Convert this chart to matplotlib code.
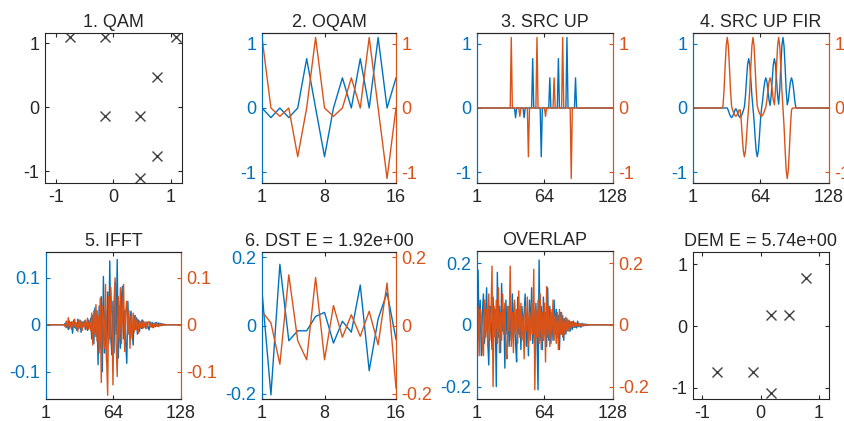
import numpy as np
import matplotlib
matplotlib.use("Agg")
import matplotlib.pyplot as plt

BLUE = "#0072BD"
ORANGE = "#D95319"
DARK = "#262626"
MARK = "#404040"

plt.rcParams["font.family"] = ["Liberation Sans", "DejaVu Sans"]
plt.rcParams["font.size"] = 13
plt.rcParams["axes.unicode_minus"] = False

# ── data ────────────────────────────────────────────────────────────────────
# QAM symbols (real / imag)
qam_re = [-0.15, -0.15, 0.77, -0.76, 0.47, 0.77, 1.1, 0.47]
qam_im = [1.1, -0.13, -0.76, 1.1, -0.13, 0.47, 1.1, -1.1]

# upsampling of the 16 OQAM samples into a 128-sample frame
UP_START = 33
UP_STEP = 4

# pulse-shaped frame, non-zero stretch only
FIR_ORANGE_START = 29
fir_orange = [
    0.03, 0.28, 0.65, 0.97, 1.10, 0.97, 0.65, 0.28,
    0.03, -0.03, -0.08, -0.11, -0.13, -0.11, -0.08, -0.03,
    -0.03, -0.19, -0.45, -0.67, -0.76, -0.67, -0.45, -0.19,
    0.01, 0.28, 0.65, 0.97, 1.10, 0.97, 0.65, 0.28,
    0.03, -0.03, -0.08, -0.11, -0.13, -0.11, -0.08, -0.03,
    0.01, 0.12, 0.28, 0.41, 0.47, 0.41, 0.28, 0.12,
    0.05, 0.28, 0.65, 0.97, 1.10, 0.97, 0.65, 0.28,
    0.00, -0.28, -0.65, -0.97, -1.10, -0.97, -0.65, -0.28,
    -0.03,
]
FIR_BLUE_START = 33
fir_blue = [
    0.00, -0.04, -0.09, -0.13, -0.15, -0.13, -0.09, -0.04,
    -0.01, -0.04, -0.09, -0.13, -0.15, -0.13, -0.09, -0.04,
    0.02, 0.19, 0.45, 0.68, 0.77, 0.68, 0.45, 0.19,
    0.00, -0.19, -0.45, -0.67, -0.76, -0.67, -0.45, -0.19,
    -0.01, 0.12, 0.28, 0.41, 0.47, 0.41, 0.28, 0.12,
    0.04, 0.19, 0.45, 0.68, 0.77, 0.68, 0.45, 0.19,
    0.06, 0.28, 0.65, 0.97, 1.10, 0.97, 0.65, 0.28,
    0.05, 0.12, 0.28, 0.41, 0.47, 0.41, 0.28, 0.12,
    0.01,
]

ifft_blue = [
    0, 0, 0, 0, 0, 0, 0, 0, 0, 0,
    0, 0, 0, 0, 0, 0, 0, 0, 0.003, -0.006,
    0.004, -0.010, 0.008, -0.004, 0.006, -0.018, 0.010, -0.006, 0.004, -0.012,
    0.012, -0.008, 0.010, -0.016, 0.006, -0.004, 0.008, -0.010, 0.004, -0.012,
    0.010, -0.006, 0.014, -0.030, 0.020, -0.040, 0.036, -0.025, 0.030, -0.085,
    0.040, -0.050, 0.060, -0.100, 0.103, -0.060, 0.030, -0.080, 0.070, -0.040,
    0.136, -0.030, -0.064, 0.050, -0.060, 0.090, -0.020, 0.139, -0.071, 0.040,
    -0.050, 0.060, 0.082, -0.030, 0.030, -0.040, -0.082, 0.050, -0.020, 0.010,
    0.029, -0.015, -0.043, 0.020, -0.010, 0.015, -0.020, 0.010, -0.014, 0.006,
    -0.008, 0.010, -0.006, 0.004, -0.008, 0.006, -0.004, -0.011, 0.006, -0.004,
    0.005, -0.006, 0.003, -0.004, 0.005, -0.003, 0.004, -0.002, 0.003, -0.002,
    0.002, -0.001, 0.001, 0, 0, 0, 0, 0, 0, 0,
    0, 0, 0, 0, 0, 0, 0, 0,
]
ifft_orange = [
    0, 0, 0, 0, 0, 0, 0, 0, 0, 0,
    0, 0, 0, 0, 0, 0, 0, 0, -0.004, 0.008,
    -0.006, 0.015, -0.008, 0.005, -0.010, 0.006, -0.004, 0.012, -0.008, 0.004,
    -0.014, 0.010, -0.006, 0.008, -0.012, 0.006, -0.004, 0.010, -0.008, 0.014,
    -0.010, 0.006, -0.012, 0.025, -0.043, 0.030, -0.020, 0.043, -0.035, 0.020,
    -0.060, 0.057, -0.123, 0.040, 0.010, -0.050, 0.086, -0.070, -0.150, 0.060,
    -0.030, 0.080, 0.020, -0.128, 0.050, 0.100, -0.040, -0.110, 0.060, -0.030,
    0.079, -0.040, 0.020, 0.086, -0.057, 0.030, 0.050, -0.020, 0.030, -0.050,
    0.020, -0.030, 0.025, -0.015, 0.020, -0.010, 0.012, -0.018, 0.008, -0.006,
    0.010, -0.008, 0.007, -0.004, 0.006, -0.008, 0.005, 0.007, -0.005, 0.004,
    -0.006, 0.003, -0.004, 0.005, -0.003, 0.002, -0.004, 0.003, -0.002, 0.002,
    -0.001, 0.001, -0.001, 0, 0, 0, 0, 0, 0, 0,
    0, 0, 0, 0, 0, 0, 0, 0,
]

dst_blue = [0.10, -0.203, 0.18, -0.044, -0.015, -0.015, 0.027, 0.039,
            -0.051, 0.013, -0.019, 0.119, -0.132, 0.02, 0.097, -0.04]
dst_orange = [0.042, 0.008, -0.113, 0.149, -0.044, -0.10, 0.141, -0.10,
              0.059, -0.034, 0.032, -0.031, 0.042, -0.056, 0.125, -0.183]

overlap_blue = [
    0.05, 0.177, -0.05, 0.08, -0.10, 0.04, 0.10, -0.06, 0.03, 0.12,
    -0.05, -0.13, 0.06, 0.02, -0.08, 0.09, -0.03, 0.05, -0.20, 0.17,
    -0.04, 0.06, -0.09, 0.134, -0.02, 0.05, -0.14, 0.08, -0.03, 0.06,
    -0.07, 0.04, -0.05, 0.10, -0.04, 0.07, -0.06, -0.12, 0.09, -0.03,
    0.05, -0.08, 0.06, -0.02, 0.04, 0.10, -0.07, 0.03, -0.10, 0.08,
    -0.03, 0.12, -0.06, 0.05, -0.09, 0.07, -0.04, -0.21, 0.21, -0.05,
    0.06, -0.08, 0.09, -0.03, 0.04, -0.07, 0.12, -0.05, 0.06, -0.06,
    0.04, -0.05, 0.08, -0.03, 0.05, -0.04, 0.03, -0.08, 0.04, -0.03,
    0.03, -0.05, 0.02, -0.03, 0.02, -0.02, 0.015, -0.02, 0.01, -0.015,
    0.012, -0.008, 0.006, -0.01, 0.012, -0.006, 0.004, -0.008, 0.005, -0.004,
    0.003, -0.003, 0.002, -0.002, 0.001, -0.001, 0, 0, 0, 0,
    0, 0, 0, 0, 0, 0, 0, 0, 0, 0,
    0, 0, 0, 0, 0, 0, 0, 0,
]
overlap_orange = [
    -0.03, 0.06, -0.10, 0.05, 0.02, -0.06, -0.10, 0.08, -0.04, 0.05,
    -0.07, 0.10, -0.05, 0.03, 0.19, -0.20, 0.06, -0.04, 0.08, -0.06,
    0.12, -0.09, 0.04, -0.05, 0.10, -0.03, 0.07, -0.08, -0.11, 0.06,
    -0.02, 0.19, -0.07, 0.04, -0.09, 0.08, -0.03, 0.05, -0.06, 0.11,
    -0.04, 0.07, -0.05, 0.03, -0.11, 0.06, -0.02, 0.09, -0.07, 0.04,
    -0.05, 0.07, -0.03, 0.18, -0.21, 0.05, -0.04, 0.08, -0.06, 0.10,
    -0.08, 0.04, -0.05, 0.07, -0.12, 0.124, -0.04, 0.06, -0.07, 0.05,
    -0.03, 0.08, -0.05, 0.03, -0.06, 0.04, -0.08, 0.05, -0.03, 0.04,
    -0.04, 0.02, -0.03, 0.025, -0.02, 0.015, -0.02, 0.01, -0.012, 0.01,
    -0.008, 0.006, -0.008, 0.005, -0.006, 0.004, -0.005, 0.003, -0.004, 0.003,
    -0.002, 0.002, -0.001, 0.001, 0, 0, 0, 0, 0, 0,
    0, 0, 0, 0, 0, 0, 0, 0, 0, 0,
    0, 0, 0, 0, 0, 0, 0, 0,
]

# demodulated symbols
dem_re = [-0.75, -0.14, 0.17, 0.17, 0.48, 0.77]
dem_im = [-0.75, -0.75, -1.075, 0.177, 0.177, 0.785]

dst_energy = 1.92
dem_energy = 5.74

# ── derived series ──────────────────────────────────────────────────────────
N = 128
n16 = np.arange(1, 17)
n128 = np.arange(1, N + 1)

# OQAM staggering: imag on odd slots, real on even slots
oqam_blue = np.zeros(16)
oqam_orange = np.zeros(16)
oqam_blue[1::2] = qam_re
oqam_orange[0::2] = qam_im

up_idx = UP_START - 1 + UP_STEP * np.arange(16)
src_blue = np.zeros(N)
src_orange = np.zeros(N)
src_blue[up_idx] = oqam_blue
src_orange[up_idx] = oqam_orange

filt_blue = np.zeros(N)
filt_orange = np.zeros(N)
filt_blue[FIR_BLUE_START - 1:FIR_BLUE_START - 1 + len(fir_blue)] = fir_blue
filt_orange[FIR_ORANGE_START - 1:FIR_ORANGE_START - 1 + len(fir_orange)] = fir_orange

# ── figure ──────────────────────────────────────────────────────────────────
W, H = 845, 421
fig = plt.figure(figsize=(W / 100, H / 100), dpi=100)
fig.patch.set_facecolor("white")


def px_rect(x0, y0, x1, y1):
    return [x0 / W, 1 - y1 / H, (x1 - x0) / W, (y1 - y0) / H]


def fmt(v):
    return f"{v:g}"


def scatter_panel(rect, title, xs, ys, xlim, ylim):
    ax = fig.add_axes(rect)
    ax.plot(xs, ys, linestyle="none", marker="x", ms=7.5, mew=1.0, color=MARK)
    ax.set_xlim(*xlim)
    ax.set_ylim(*ylim)
    ticks = [-1, 0, 1]
    ax.set_xticks(ticks, [fmt(t) for t in ticks])
    ax.set_yticks(ticks, [fmt(t) for t in ticks])
    for s in ax.spines.values():
        s.set_color(DARK)
        s.set_linewidth(0.8)
    ax.tick_params(direction="in", length=3, width=0.8, top=True, right=True,
                   colors=DARK, pad=4)
    ax.set_title(title, color=DARK, pad=4, fontsize=13)
    return ax


def twin_panel(rect, title, x, yl, yr, ylim, xticks, yticks):
    ax = fig.add_axes(rect)
    ax2 = ax.twinx()
    ax.plot(x, yl, color=BLUE, lw=1.0)
    ax2.plot(x, yr, color=ORANGE, lw=1.0)
    ax.set_xlim(x[0], x[-1])
    ax.set_ylim(*ylim)
    ax2.set_ylim(*ylim)
    ax.set_xticks(xticks, [fmt(t) for t in xticks])
    ax.set_yticks(yticks, [fmt(t) for t in yticks])
    ax2.set_yticks(yticks, [fmt(t) for t in yticks])
    for a in (ax, ax2):
        a.spines["top"].set_color(DARK)
        a.spines["bottom"].set_color(DARK)
        a.spines["left"].set_color(BLUE)
        a.spines["right"].set_color(ORANGE)
        for s in a.spines.values():
            s.set_linewidth(0.8)
    ax.tick_params(axis="x", direction="in", length=3, width=0.8, top=True,
                   colors=DARK, pad=4)
    ax.tick_params(axis="y", direction="in", length=3, width=0.8,
                   colors=BLUE, pad=4)
    ax2.tick_params(axis="y", direction="in", length=3, width=0.8,
                    colors=ORANGE, pad=4)
    ax.set_title(title, color=DARK, pad=4, fontsize=13)
    return ax, ax2


scatter_panel(px_rect(45, 33, 182, 183), "1. QAM", qam_re, qam_im,
              (-1.2, 1.2), (-1.18, 1.16))
twin_panel(px_rect(262, 33, 396, 183), "2. OQAM", n16, oqam_blue, oqam_orange,
           (-1.17, 1.17), [1, 8, 16], [-1, 0, 1])
twin_panel(px_rect(477, 33, 613, 183), "3. SRC UP", n128, src_blue, src_orange,
           (-1.17, 1.17), [1, 64, 128], [-1, 0, 1])
twin_panel(px_rect(693, 33, 829, 183), "4. SRC UP FIR", n128, filt_blue, filt_orange,
           (-1.17, 1.17), [1, 64, 128], [-1, 0, 1])

twin_panel(px_rect(46, 252, 181, 399), "5. IFFT", n128, ifft_blue, ifft_orange,
           (-0.158, 0.155), [1, 64, 128], [-0.1, 0, 0.1])
twin_panel(px_rect(262, 252, 396, 399), f"6. DST E = {dst_energy:.2e}", n16,
           dst_blue, dst_orange, (-0.215, 0.216), [1, 8, 16], [-0.2, 0, 0.2])
twin_panel(px_rect(477, 251, 613, 399), "OVERLAP", n128, overlap_blue, overlap_orange,
           (-0.24, 0.239), [1, 64, 128], [-0.2, 0, 0.2])
scatter_panel(px_rect(693, 252, 829, 399), f"DEM E = {dem_energy:.2e}", dem_re, dem_im,
              (-1.16, 1.17), (-1.18, 1.2))

fig.savefig("out.png", dpi=100)
